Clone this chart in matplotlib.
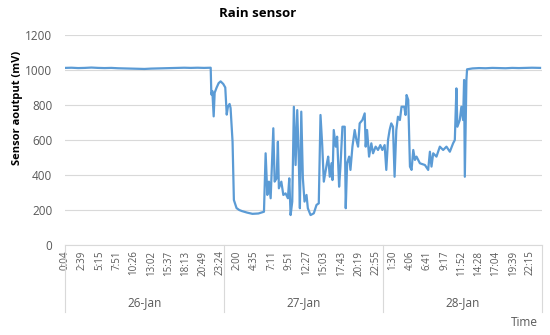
import matplotlib
matplotlib.use("Agg")
import matplotlib.pyplot as plt
import matplotlib.transforms as mtransforms

# hours since 26-Jan 00:00 and sensor output in mV
hours = [0, 1, 2, 3, 4, 5, 6, 7, 8, 9, 10, 11, 12, 13, 14, 15, 16, 17, 18, 19, 20, 21, 22.0,
         22.1, 22.25, 22.45, 22.6, 22.9, 23.2, 23.5, 23.9, 24.2, 24.42, 24.6, 24.85, 25.0,
         25.3, 25.5, 25.9, 26.3, 26.7, 27.5, 28.3, 29.2, 30.04,
         30.29, 30.55, 30.79, 31.05, 31.45, 31.65, 31.95, 32.14, 32.29, 32.66, 32.96,
         33.3, 33.65, 33.86, 34.06, 34.31, 34.55, 34.81, 35.06, 35.3, 35.46, 35.67,
         35.91, 36.16, 36.46, 36.66, 37.07, 37.56, 37.97, 38.31, 38.57, 38.83, 39.07,
         39.32, 39.58, 39.73, 39.97, 40.23, 40.38, 40.57, 40.87, 41.08, 41.38, 41.58,
         41.88, 42.23, 42.38, 42.59, 42.89, 43.09, 43.39, 43.73, 43.99, 44.24, 44.48,
         44.89, 45.24, 45.39, 45.6, 45.9, 46.24, 46.5, 46.89, 47.25, 47.6, 47.9,
         48.25, 48.5, 48.76, 49.0, 49.25, 49.51, 49.75, 50.01, 50.26, 50.55,
         50.8, 51.21, 51.41, 51.56, 51.81, 52.07, 52.31, 52.57, 52.82, 53.06, 53.57,
         54.33, 54.82, 55.08, 55.32, 55.58, 56.07, 56.58, 57.08, 57.58, 58.09, 58.58,
         58.84, 59.08, 59.23, 59.59, 59.83, 60.09, 60.24, 60.35, 60.59, 60.69,
         61.5, 62.5, 63.5, 64.5, 65.5, 66.5, 67.5, 68.5, 69.5, 70.5, 71.7]
sensor_mv = [1012, 1013, 1011, 1012, 1014, 1012, 1011, 1012, 1010, 1009, 1008, 1007, 1006, 1008, 1009, 1010, 1011, 1012, 1013, 1012, 1013, 1012, 1013,
             860, 880, 735, 870, 900, 925, 935, 920, 900, 745, 790, 806, 783,
             590, 257, 211, 200, 194, 185, 178, 180, 190,
             524, 286, 362, 267, 667, 362, 381, 590, 324, 362, 286,
             295, 267, 381, 171, 248, 790, 457, 771, 476, 210, 762,
             381, 248, 286, 210, 171, 181, 229, 238, 743, 571, 362,
             419, 476, 505, 390, 467, 371, 657, 562, 619, 333, 448,
             676, 676, 210, 467, 505, 429, 562, 657, 600, 562, 695,
             714, 752, 562, 657, 505, 581, 524, 562, 543, 571, 543,
             571, 429, 600, 657, 695, 676, 390, 657, 733, 714,
             790, 790, 743, 857, 829, 448, 429, 543, 486, 505, 467,
             457, 429, 533, 448, 524, 505, 562, 543, 562, 533, 581,
             600, 895, 676, 714, 790, 714, 943, 390, 943, 1004,
             1009, 1011, 1010, 1012, 1011, 1010, 1012, 1011, 1012, 1013, 1012]

days = ["26-Jan", "27-Jan", "28-Jan"]
time_labels = [
    ["0:04", "2:39", "5:15", "7:51", "10:26", "13:02", "15:37", "18:13", "20:49", "23:24"],
    ["2:00", "4:35", "7:11", "9:51", "12:27", "15:03", "17:43", "20:19", "22:55"],
    ["1:30", "4:06", "6:41", "9:17", "11:52", "14:28", "17:04", "19:39", "22:15"],
]

grey = "#595959"
light = "#d9d9d9"
plt.rcParams["font.family"] = ["Open Sans", "DejaVu Sans"]

fig = plt.figure(figsize=(5.5, 3.35), dpi=100)
ax = fig.add_axes([0.118, 0.2687, 0.8675, 0.6268])

ax.plot(hours, sensor_mv, color="#5b9bd5", linewidth=1.6)

ax.set_xlim(0, 72)
ax.set_ylim(0, 1200)
ax.set_yticks(range(0, 1201, 200))
ax.grid(axis="y", color=light, linewidth=0.8)
ax.set_axisbelow(True)
for s in ["left", "right", "top"]:
    ax.spines[s].set_visible(False)
ax.spines["bottom"].set_color(light)
ax.tick_params(axis="y", length=0, pad=9, labelsize=8.5, labelcolor=grey)

# tick positions from the labels themselves
pos, labs = [], []
for d, labels in enumerate(time_labels):
    for lab in labels:
        hh, mm = lab.split(":")
        pos.append(24 * d + int(hh) + int(mm) / 60)
        labs.append(lab)
ax.set_xticks(pos)
ax.set_xticklabels(labs, rotation=90)
ax.tick_params(axis="x", length=0, pad=4, labelsize=7, labelcolor=grey)

trans = mtransforms.blended_transform_factory(ax.transData, ax.transAxes)
for b in [0, 24, 48, 72]:
    ax.plot([b, b], [0, -0.318], transform=trans, color=light, linewidth=0.8, clip_on=False)
for d, name in enumerate(days):
    ax.text(24 * d + 12, -0.275, name, transform=trans, ha="center", va="center",
            fontsize=8.5, color=grey)

fig.text(0.469, 0.961, "Rain sensor", ha="center", va="center", fontsize=9.5,
         fontweight="bold", color="#000000")
fig.text(0.031, 0.678, "Sensor aoutput (mV)", ha="center", va="center", rotation=90,
         fontsize=8, fontweight="bold", color="#000000")
fig.text(0.978, 0.036, "Time", ha="right", va="center", fontsize=8.5, color=grey)

fig.savefig("out.png", dpi=100)
